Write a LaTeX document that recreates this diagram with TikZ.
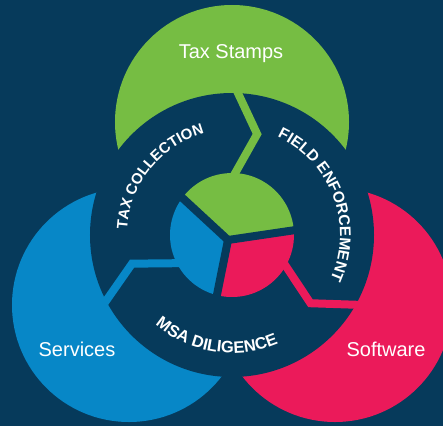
\documentclass[tikz,border=0pt]{standalone}
\usepackage{fontspec}
\setmainfont{Liberation Sans}
\usetikzlibrary{decorations.text}
\definecolor{mNavy}{HTML}{063A5B}
\definecolor{mGreen}{HTML}{76BD43}
\definecolor{mBlue}{HTML}{0787C7}
\definecolor{mPink}{HTML}{EB1A5A}

\begin{document}
\begin{tikzpicture}[x=1pt, y=1pt,
    petal/.style={font=\fontsize{20}{24}\selectfont, text=white, anchor=base, inner sep=0pt},
    gap/.style={line width=8pt, line join=miter},
    split/.style={mNavy, line width=8pt},
    ringtext/.style 2 args={decorate, decoration={text effects along path, text={#2},
        text align=center, text effects/.cd, text along path,
        every character/.style={font=\fontsize{#1}{#1}\selectfont\bfseries, text=white, inner sep=0pt}}}
]
    \fill[mNavy] (-232,-191) rectangle (211,235);
    \useasboundingbox (-232,-191) rectangle (211,235);
    % three circles
    \fill[mGreen] (0,113) circle[radius=117];
    \fill[mBlue] (-103,-70) circle[radius=117];
    \fill[mPink] (103,-70) circle[radius=117];
    % ring and inner disk
    \fill[mNavy] (0,0) circle[radius=142];
    \coordinate (hub) at (-4,-5);
    \fill[mGreen] (hub) -- (143:62) arc[start angle=143, end angle=4.5, radius=62] -- cycle;
    \fill[mBlue] (hub) -- (256:62) arc[start angle=256, end angle=143, radius=62] -- cycle;
    \fill[mPink] (hub) -- (4.5:62) arc[start angle=4.5, end angle=-104, radius=62] -- cycle;
    \draw[split] (hub) -- (143:64);
    \draw[split] (hub) -- (4.5:64);
    \draw[split] (hub) -- (256:64);
    % chevron gaps
    \draw[gap, mGreen] (88:60) -- (76:104) -- (88:144);
    \draw[gap, mBlue] (208:60) -- (196:104) -- (208:144);
    \draw[gap, mPink] (-29:60) -- (-41:104) -- (-29:144);
    % ring labels
    \path[ringtext={15}{TAX COLLECTION}]
        (177.5:105) arc[start angle=177.5, end angle=104.8, radius=105];
    \path[ringtext={15.5}{FIELD ENFORCEMENT}]
        (65.5:108) arc[start angle=65.5, end angle=-24.7, radius=108];
    \path[ringtext={16.5}{MSA DILIGENCE}]
        (228.8:118) arc[start angle=228.8, end angle=293.8, radius=118];
    % circle labels
    \node[petal] (stamps) at (-1,177) {Tax Stamps};
    \node[petal] (services) at (-155,-121) {Services};
    \node[petal] (software) at (154,-121) {Software};
\end{tikzpicture}
\end{document}
